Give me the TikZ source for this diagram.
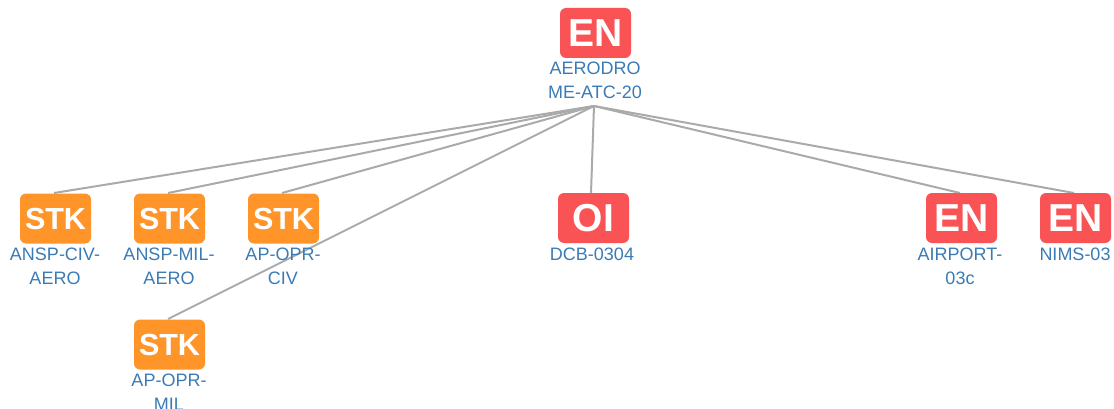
\documentclass[tikz,border=0pt]{standalone}
\usepackage{fontspec}
\setmainfont{Liberation Sans}
\definecolor{enred}{HTML}{F95355}
\definecolor{stkor}{HTML}{FF9429}
\definecolor{lbl}{HTML}{3A7AB5}
\definecolor{edge}{HTML}{AAAAAA}
\tikzset{
 x=1pt,y=-1pt,
 badge/.style={rounded corners=6pt,minimum width=71pt,minimum height=50pt,inner sep=0pt,text=white},
 en/.style={badge,fill=enred,font=\fontsize{39}{39}\bfseries\selectfont},
 stk/.style={badge,fill=stkor,font=\fontsize{30.5}{30.5}\bfseries\selectfont},
 lab/.style={text=lbl,font=\fontsize{18}{24}\selectfont,align=center,inner sep=0pt,anchor=north},
 link/.style={draw=edge,line width=2pt}
}
\begin{document}
\begin{tikzpicture}
\useasboundingbox (0,0) rectangle (1114,409);
\coordinate (hub) at (594,106);
\coordinate (t1) at (54,193);\coordinate (t2) at (168,193);\coordinate (t3) at (282,193);
\coordinate (t4) at (168,319);\coordinate (t5) at (591,193);\coordinate (t6) at (960,193);\coordinate (t7) at (1074,193);
\foreach \t in {t1,t2,t3,t4,t5,t6,t7} \draw[link] (hub) -- (\t);
\node[en] (n0) at (595.5,33) {EN};
\node[lab] (l0) at (595,61.5) {AERODRO\\ME-ATC-20};
\node[stk] (n1) at (55.5,218.5) {STK};
\node[lab] (l1) at (55,247.5) {ANSP-CIV-\\AERO};
\node[stk] (n2) at (169.5,218.5) {STK};
\node[lab] (l2) at (169,247.5) {ANSP-MIL-\\AERO};
\node[stk] (n3) at (283.5,218.5) {STK};
\node[lab] (l3) at (283,247.5) {AP-OPR-\\CIV};
\node[stk] (n4) at (169.5,344.5) {STK};
\node[lab] (l4) at (169,373.5) {AP-OPR-\\MIL};
\node[en] (n5) at (593.5,218) {OI};
\node[lab] (l5) at (592,247.5) {DCB-0304};
\node[en] (n6) at (961.5,218) {EN};
\node[lab] (l6) at (960,247.5) {AIRPORT-\\03c};
\node[en] (n7) at (1075.5,218) {EN};
\node[lab] (l7) at (1075,247.5) {NIMS-03};
\end{tikzpicture}
\end{document}
